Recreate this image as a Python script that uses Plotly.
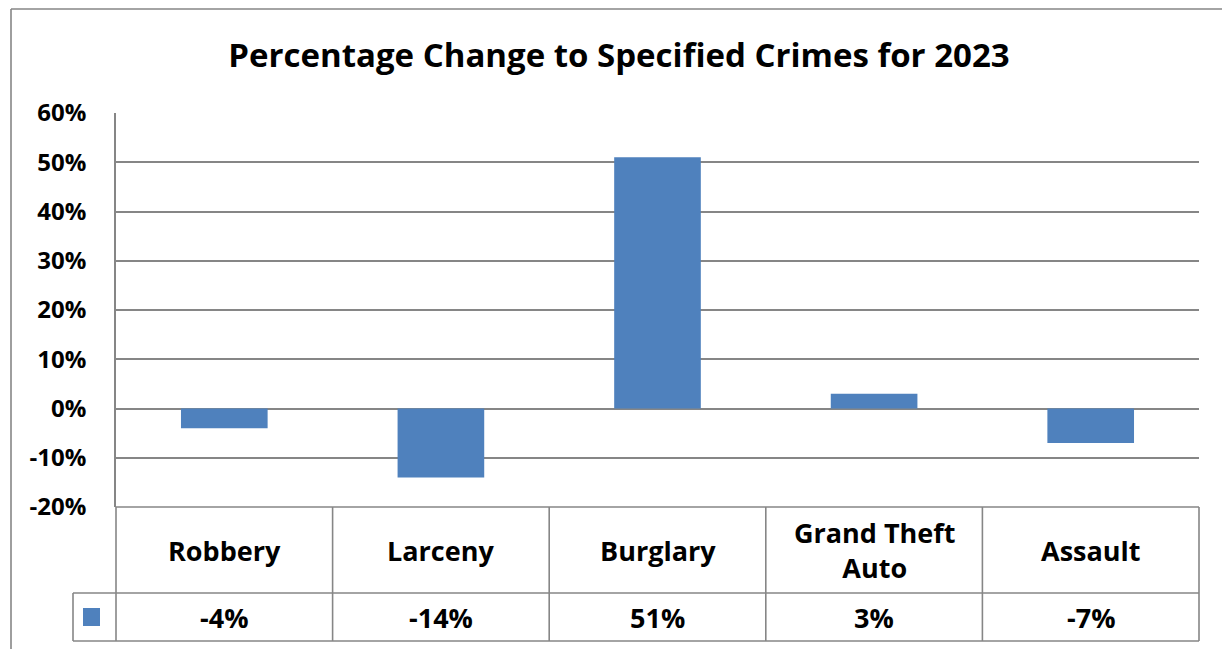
import plotly.graph_objects as go

# Chart data
categories = ["Robbery", "Larceny", "Burglary", "Grand Theft Auto", "Assault"]
category_labels = ["Robbery", "Larceny", "Burglary", "Grand Theft<br>Auto", "Assault"]
pct_change = [-0.04, -0.14, 0.51, 0.03, -0.07]
y_ticks = [-0.2, -0.1, 0.0, 0.1, 0.2, 0.3, 0.4, 0.5, 0.6]
y_tick_text = [f"{v:.0%}" for v in y_ticks]

W, H = 1222, 649
L, R, T, B = 116, 1199, 113, 507  # plot area in pixels

BAR = "#4F81BD"
GRID = "#868686"
FONT = "Open Sans"


def px_x(p):
    return (p - L) / (R - L)


def px_y(p):
    return (B - p) / (B - T)


fig = go.Figure(
    go.Bar(
        x=list(range(len(categories))),
        y=pct_change,
        marker=dict(color=BAR, line=dict(width=0)),
        width=0.4,
        hoverinfo="skip",
    )
)

shapes = []
line = dict(color=GRID, width=1.6)

# outer chart frame
shapes.append(dict(type="line", xref="paper", yref="paper",
                   x0=px_x(11), x1=px_x(1230), y0=px_y(9), y1=px_y(9), line=line))
shapes.append(dict(type="line", xref="paper", yref="paper",
                   x0=px_x(11), x1=px_x(11), y0=px_y(9), y1=px_y(660), line=line))

# data table grid
row1, row2, row3 = B, 593, 641
n = len(categories)
for i in range(n + 1):
    xp = i / n
    shapes.append(dict(type="line", xref="paper", yref="paper",
                       x0=xp, x1=xp, y0=px_y(row1), y1=px_y(row3), line=line))
shapes.append(dict(type="line", xref="paper", yref="paper",
                   x0=0, x1=1, y0=px_y(row1), y1=px_y(row1), line=line))
shapes.append(dict(type="line", xref="paper", yref="paper",
                   x0=px_x(73), x1=1, y0=px_y(row2), y1=px_y(row2), line=line))
shapes.append(dict(type="line", xref="paper", yref="paper",
                   x0=px_x(73), x1=1, y0=px_y(row3), y1=px_y(row3), line=line))
shapes.append(dict(type="line", xref="paper", yref="paper",
                   x0=px_x(73), x1=px_x(73), y0=px_y(row2), y1=px_y(row3), line=line))
# legend key
shapes.append(dict(type="rect", xref="paper", yref="paper",
                   x0=px_x(83), x1=px_x(100), y0=px_y(626), y1=px_y(608),
                   fillcolor=BAR, line=dict(width=0)))

annotations = []
for i, lab in enumerate(category_labels):
    annotations.append(dict(x=i, xref="x", y=px_y((row1 + row2) / 2), yref="paper",
                            text=f"<b>{lab}</b>", showarrow=False,
                            font=dict(family=FONT, size=27, color="black"),
                            xanchor="center", yanchor="middle"))
for i, v in enumerate(pct_change):
    annotations.append(dict(x=i, xref="x", y=px_y((row2 + row3) / 2), yref="paper",
                            text=f"<b>{v:.0%}</b>", showarrow=False,
                            font=dict(family=FONT, size=27, color="black"),
                            xanchor="center", yanchor="middle"))

fig.update_layout(
    width=W, height=H,
    margin=dict(l=L, r=W - R, t=T, b=H - B),
    paper_bgcolor="white", plot_bgcolor="white",
    showlegend=False,
    title=dict(text="<b>Percentage Change to Specified Crimes for 2023</b>",
               x=(225 + 1013) / 2 / W, xanchor="center",
               y=1 - 55 / H, yanchor="middle",
               font=dict(family=FONT, size=33, color="black")),
    xaxis=dict(range=[-0.5, n - 0.5], showticklabels=False, showgrid=False,
               zeroline=False, showline=False, ticks=""),
    yaxis=dict(range=[-0.2, 0.6], tickvals=y_ticks, ticktext=y_tick_text,
               showgrid=True, gridcolor=GRID, gridwidth=1.6,
               zeroline=True, zerolinecolor=GRID, zerolinewidth=1.6,
               showline=True, linecolor=GRID, linewidth=1.6,
               ticks="", ticklabelstandoff=23,
               tickfont=dict(family=FONT, size=24, color="black", weight="bold")),
    shapes=shapes,
    annotations=annotations,
    bargap=0.6,
)

fig.write_html("out.html")
